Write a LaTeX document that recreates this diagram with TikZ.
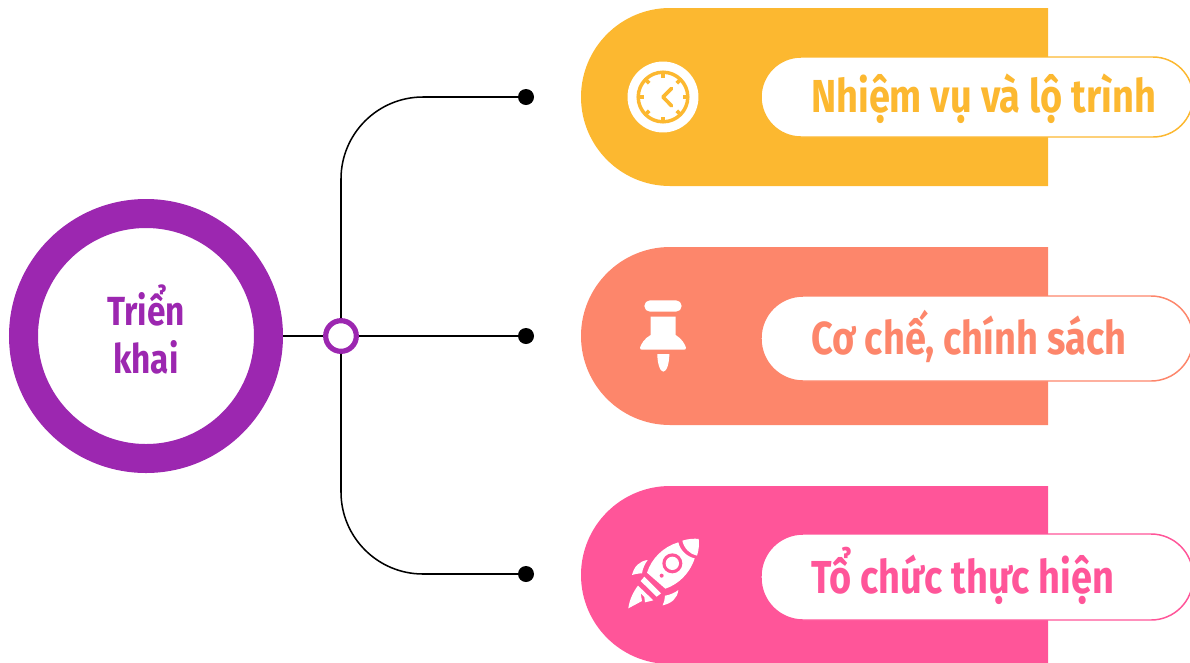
\documentclass[tikz,border=0pt]{standalone}
\usepackage{fontspec}
\newfontfamily\firac[FakeStretch=0.82]{Fira Sans}
\definecolor{cpurple}{HTML}{9C27B0}
\definecolor{cyellow}{HTML}{FCB830}
\definecolor{corange}{HTML}{FD866B}
\definecolor{cpink}{HTML}{FF5599}
\tikzset{
  conn/.style={black,line width=1.9pt},
  thinconn/.style={black,line width=1.15pt},
  enddot/.style={circle,fill=black,inner sep=0,minimum size=12pt},
  hubring/.style={circle,draw=cpurple,fill=white,line width=3.9pt,inner sep=0,minimum size=23pt},
  mainring/.style={circle,draw=cpurple,fill=white,line width=21.75pt,inner sep=0,minimum size=183.75pt},
  labeltext/.style={anchor=base west,inner sep=0,font=\firac\bfseries\fontsize{34.7}{38}\selectfont},
  maintext/.style={anchor=base,inner sep=0,font=\firac\bfseries\fontsize{30.5}{34}\selectfont,text=cpurple},
  pill/.style={fill=white,line width=1.1pt},
}
\begin{document}
\begin{tikzpicture}[x=.75pt,y=-.75pt]
\clip (0,0) rectangle (1190,662);
% bands
\fill[cyellow] (1048,8) -- (670,8) arc[start angle=90,end angle=270,radius=66.75pt] -- (1048,186) -- cycle;
\fill[corange] (1048,247) -- (670,247) arc[start angle=90,end angle=270,radius=66.75pt] -- (1048,425) -- cycle;
\fill[cpink] (1048,486) -- (670,486) arc[start angle=90,end angle=270,radius=66.75pt] -- (1048,664) -- cycle;
% pills
\draw[pill,draw=cyellow,rounded corners=30pt] (761,57) rectangle (1193,137);
\draw[pill,draw=corange,rounded corners=31.5pt] (761,296) rectangle (1193,381);
\draw[pill,draw=cpink,rounded corners=31.5pt] (761,534) rectangle (1193,620);
% nodes
\node[mainring] (main) at (146,336) {};
\node[hubring] (hub) at (341,336) {};
\node[enddot] (d1) at (526,97) {};
\node[enddot] (d2) at (526,336) {};
\node[enddot] (d3) at (526,574) {};
\coordinate (k1) at (423,97);
\coordinate (k3) at (423,574);
% connectors
\draw[conn] (main) -- (hub);
\draw[conn] (hub) -- (d2);
\draw[thinconn,rounded corners=61.5pt] (hub.north) |- (k1);
\draw[thinconn,rounded corners=61.5pt] (hub.south) |- (k3);
\draw[conn] (k1) -- (d1);
\draw[conn] (k3) -- (d3);
% labels
\node[maintext] (t1) at (146,325) {Triển};
\node[maintext] (t2) at (146,373) {khai};
\node[labeltext,text=cyellow] (l1) at (811,112) {Nhiệm vụ và lộ trình};
\node[labeltext,text=corange] (l2) at (811,354) {Cơ chế, chính sách};
\node[labeltext,text=cpink] (l3) at (811,593) {Tổ chức thực hiện};
% clock icon
\begin{scope}[shift={(663,97)}]
\fill[white] (0,0) circle[radius=26.6pt];
\draw[cyellow,line width=2.6pt] (0,0) circle[radius=18.6pt];
\foreach \a in {0,45,...,315}
  \draw[cyellow,line width=2.8pt] (\a:24) -- (\a:19.5);
\draw[cyellow,line width=2.7pt,line cap=round,line join=round] (8.5,-8.5) -- (0,0) -- (8.5,8.8);
\end{scope}
% pin icon
\begin{scope}[shift={(610,285)},x=.25pt,y=-.25pt]
\fill[white,rounded corners=4.2pt] (103,46) rectangle (215,80);
\fill[white] (122,95) -- (197,95) -- (197,150) .. controls (215,160) and (225,178) .. (228,188) .. controls (228,192) and (226,194) .. (222,194) -- (96,194) .. controls (92,194) and (90,192) .. (90,188) .. controls (93,178) and (103,160) .. (122,150) -- cycle;
\fill[white] (142,207) -- (178,207) .. controls (178,235) and (170,260) .. (160,260) .. controls (150,260) and (142,235) .. (142,207) -- cycle;
\end{scope}
% rocket icon
\begin{scope}[shift={(610,525)},x=.25pt,y=-.25pt]
\fill[white] (217,47) .. controls (235,41) and (255,40) .. (266,42) .. controls (268,55) and (267,75) .. (261,92) .. controls (240,88) and (222,70) .. (217,47) -- cycle;
\fill[white] (205,52) .. controls (160,65) and (125,100) .. (111,143) -- (166,191) .. controls (205,178) and (240,145) .. (254,100) .. controls (230,95) and (210,75) .. (205,52) -- cycle;
\fill[cpink] (187,115) circle[radius=30];
\fill[white] (187,115) circle[radius=20];
\fill[cpink] (155,152) circle[radius=6];
\fill[white] (103,155) -- (153,205) -- (140,215) -- (92,168) -- cycle;
\fill[white] (84,182) -- (130,226) -- (105,232) -- (103,216) -- (92,205) -- (96,228) -- (55,250) .. controls (58,225) and (70,200) .. (84,182) -- cycle;
\fill[white] (113,105) .. controls (88,108) and (72,125) .. (66,150) .. controls (75,147) and (88,145) .. (96,145) .. controls (98,130) and (105,116) .. (113,105) -- cycle;
\fill[white] (205,195) .. controls (202,220) and (185,235) .. (158,241) .. controls (162,232) and (165,222) .. (165,212) .. controls (180,210) and (195,203) .. (205,195) -- cycle;
\end{scope}
\end{tikzpicture}
\end{document}
